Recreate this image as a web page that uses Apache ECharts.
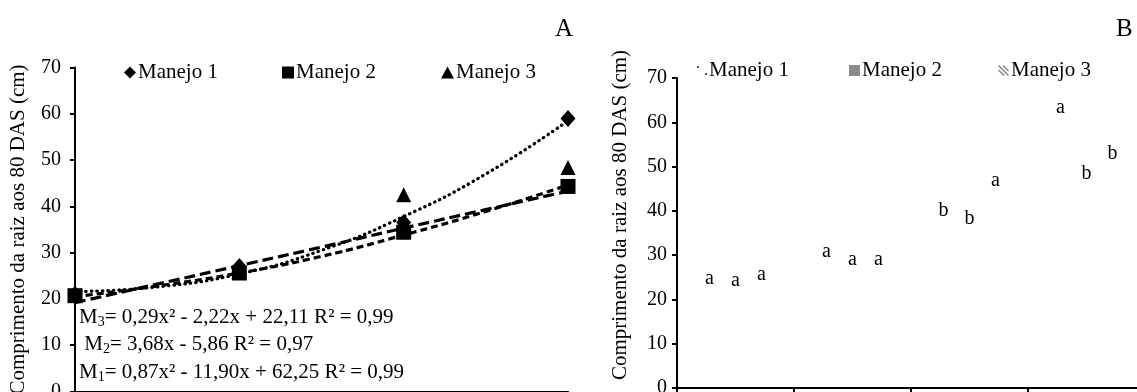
<!DOCTYPE html>
<html>
<head>
<meta charset="utf-8">
<script src="https://cdn.jsdelivr.net/npm/echarts@6/dist/echarts.min.js"></script>
<style>
html, body { margin: 0; padding: 0; background: #fff; }
#chart { width: 1137px; height: 392px; }
</style>
</head>
<body>
<div id="chart"></div>
<script>
// Painel A - pontos medidos
const epocas = [1, 2, 3, 4];
const manejo1 = [21.0, 27.0, 36.5, 59.0];
const manejo2 = [20.7, 25.6, 34.4, 44.3];
const manejo3 = [21.2, 27.0, 42.5, 48.4];

// linhas de tendência
const tendX = [1, 1.5, 2, 2.5, 3, 3.5, 4];
const tend1 = [21.6, 22.6, 25.4, 30.5, 37.8, 47.0, 58.5];
const tend2 = [19.2, 23.2, 27.2, 31.2, 35.3, 39.3, 43.3];
const tend3 = [20.5, 22.8, 25.6, 29.2, 33.8, 38.9, 44.6];

const equacoes = [
  '{n|M}{s|3}{n|= 0,29x² - 2,22x + 22,11 R² = 0,99}',
  '{n| M}{s|2}{n|= 3,68x - 5,86 R² = 0,97}',
  '{n|M}{s|1}{n|= 0,87x² - 11,90x + 62,25 R² = 0,99}'
];

// Painel B - barras (médias) e letras
const grupos = ['1', '2', '3', '4'];
const barra1 = [20.3, 26.4, 35.7, 58.9];
const barra2 = [19.9, 24.6, 33.9, 44.0];
const barra3 = [21.2, 24.6, 42.5, 48.5];
const letras1 = ['a', 'a', 'b', 'a'];
const letras2 = ['a', 'a', 'b', 'b'];
const letras3 = ['a', 'a', 'a', 'b'];

const fonte = "'Liberation Serif', 'Times New Roman', serif";
const eixoY = 'Comprimento da raiz aos 80 DAS (cm)';

let chart = echarts.init(document.getElementById('chart'));

function pares(xs, ys) {
  return xs.map((x, i) => [x, ys[i]]);
}

function linha(nome, dados, tipo, largura, ponta) {
  return {
    name: nome, type: 'line', xAxisIndex: 0, yAxisIndex: 0,
    data: pares(tendX, dados), smooth: true, symbol: 'none', silent: true,
    animation: false, z: 2,
    lineStyle: { color: '#000', width: largura, type: tipo, cap: ponta }
  };
}

function pontos(nome, dados, simbolo, tam) {
  return {
    name: nome, type: 'scatter', xAxisIndex: 0, yAxisIndex: 0,
    data: pares(epocas, dados), symbol: simbolo, symbolSize: tam,
    itemStyle: { color: '#000', opacity: 1 }, z: 5, animation: false
  };
}

function barras(nome, dados, letras) {
  return {
    name: nome, type: 'bar', xAxisIndex: 1, yAxisIndex: 1,
    data: dados, barWidth: 26, barGap: '0%', animation: false,
    itemStyle: { color: 'rgba(0,0,0,0)' },
    label: {
      show: true, position: 'top', distance: 9,
      formatter: p => letras[p.dataIndex],
      color: '#000', fontFamily: fonte, fontSize: 20
    }
  };
}

function legenda(nome, esquerda, topo, icone, cor, w, h) {
  return {
    left: esquerda, top: topo, itemWidth: w, itemHeight: h, itemGap: 0,
    selectedMode: false, padding: 0,
    textStyle: { fontFamily: fonte, fontSize: 21, color: '#000', padding: [0, 0, 0, -3] },
    data: [{ name: nome, icon: icone, itemStyle: { color: cor } }]
  };
}

const eixoYBase = {
  type: 'value', min: 0, max: 70, interval: 10,
  axisLine: { show: true, lineStyle: { color: '#000', width: 2 } },
  axisTick: { show: true, length: 5, lineStyle: { color: '#000', width: 2 } },
  splitLine: { show: false },
  name: eixoY, nameLocation: 'middle', nameGap: 46
};

chart.setOption({
  backgroundColor: '#fff',
  animation: false,
  title: [
    { text: 'A', left: 550, top: 12, textStyle: { fontFamily: fonte, fontSize: 25, fontWeight: 'normal', color: '#000' } },
    { text: 'B', left: 1111, top: 12, textStyle: { fontFamily: fonte, fontSize: 25, fontWeight: 'normal', color: '#000' } }
  ],
  legend: [
    legenda('Manejo 1', 124, 62, 'diamond', '#000', 12, 12),
    legenda('Manejo 2', 282, 62, 'rect', '#000', 12, 12),
    legenda('Manejo 3', 441, 62, 'triangle', '#000', 13, 12),
    legenda('Manejo 1', 697, 60, 'path://M0,0h2v2h-2zM8,7h2v2h-2z', '#555', 10, 10),
    legenda('Manejo 2', 849, 60, 'rect', '#8a8a8a', 11, 11),
    legenda('Manejo 3', 998, 60, 'path://M0,1L1,0L10,9L9,10ZM0,5L1,4L6,9L5,10ZM4,1L5,0L10,5L9,6Z', '#888', 11, 11)
  ],
  grid: [
    { left: 75, right: 569, top: 67.5, bottom: 0.5, outerBoundsMode: 'none' },
    { left: 677, width: 468, top: 78, bottom: 4, outerBoundsMode: 'none' }
  ],
  xAxis: [
    {
      type: 'value', gridIndex: 0, min: 1, max: 4, interval: 1,
      axisLine: { show: true, onZero: false, lineStyle: { color: '#000', width: 2 } },
      axisTick: { show: true, length: 5, lineStyle: { color: '#000', width: 2 } },
      axisLabel: { show: false }, splitLine: { show: false }
    },
    {
      type: 'category', gridIndex: 1, data: grupos,
      axisLine: { show: true, lineStyle: { color: '#000', width: 2 } },
      axisTick: { show: true, length: 5, lineStyle: { color: '#000', width: 2 } },
      axisLabel: { show: false }
    }
  ],
  yAxis: [
    Object.assign({}, eixoYBase, {
      gridIndex: 0,
      axisLabel: { fontFamily: fonte, fontSize: 20, color: '#000', margin: 14 },
      nameTextStyle: { fontFamily: fonte, fontSize: 21, color: '#000', padding: [0, 0, 0, 0] }
    }),
    Object.assign({}, eixoYBase, {
      gridIndex: 1,
      axisLabel: { fontFamily: fonte, fontSize: 20, color: '#000', margin: 10 },
      nameTextStyle: { fontFamily: fonte, fontSize: 21, color: '#000', padding: [0, 0, 0, 36] }
    })
  ],
  graphic: equacoes.map((t, i) => ({
    type: 'text', x: 79, y: 317 + i * 27.5, z: 10,
    style: {
      text: t, fill: '#000', verticalAlign: 'middle',
      rich: {
        n: { fontFamily: fonte, fontSize: 21, lineHeight: 24, color: '#000' },
        s: { fontFamily: fonte, fontSize: 14, lineHeight: 14, verticalAlign: 'bottom', color: '#000' }
      }
    }
  })),
  series: [
    linha('tend1', tend1, [0.5, 5], 3.2, 'round'),
    linha('tend2', tend2, [11, 5], 3.2, 'butt'),
    linha('tend3', tend3, [7, 4], 3.2, 'butt'),
    pontos('Manejo 1', manejo1, 'diamond', [15, 17]),
    pontos('Manejo 2', manejo2, 'rect', 15),
    pontos('Manejo 3', manejo3, 'triangle', [15, 15]),
    barras('Manejo 1', barra1, letras1),
    barras('Manejo 2', barra2, letras2),
    barras('Manejo 3', barra3, letras3)
  ]
});
</script>
</body>
</html>
